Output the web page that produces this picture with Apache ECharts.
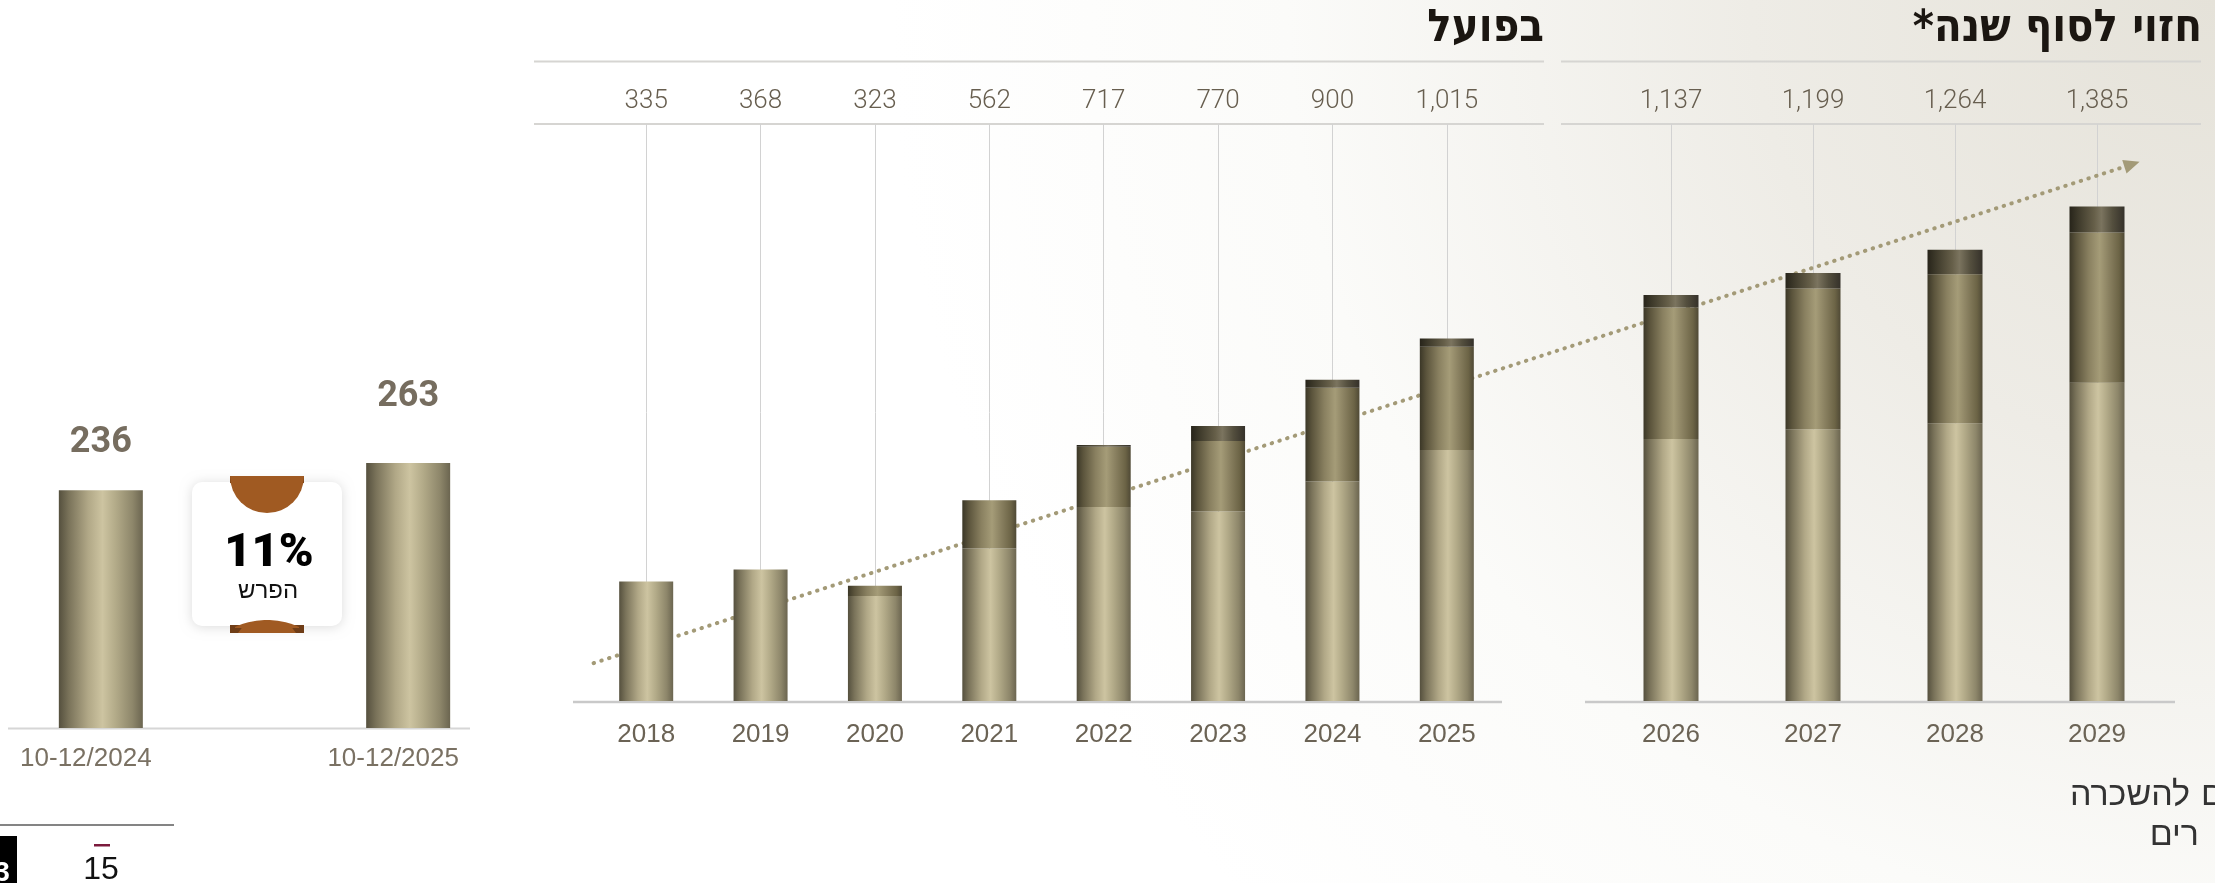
<!DOCTYPE html>
<html lang="he">
<head>
<meta charset="utf-8">
<title>נכסים להשכרה</title>
<script src="https://cdn.jsdelivr.net/npm/echarts@6/dist/echarts.min.js"></script>
<style>
  html, body { margin: 0; padding: 0; background: #ffffff; }
  #chart { width: 2215px; height: 883px; }
</style>
</head>
<body>
<div id="chart"></div>
<script>
// ---- Quarter comparison (left panel) ----
const quarterLabels = ['10-12/2024', '', '10-12/2025'];
const quarterValues = [236, null, 263];

// ---- Annual figures: actual years ----
const actualYears = ['2018', '2019', '2020', '2021', '2022', '2023', '2024', '2025'];
const actualBase  = [335, 368, 294, 427, 543, 531, 615, 703];
const actualMid   = [0, 0, 29, 135, 169, 197, 262, 289];
const actualTop   = [0, 0, 0, 0, 5, 42, 23, 23];

// ---- Annual figures: year-end forecast ----
const forecastYears = ['2026', '2027', '2028', '2029'];
const forecastBase  = [734, 761, 778, 891];
const forecastMid   = [368, 394, 417, 421];
const forecastTop   = [35, 44, 69, 73];

// Trend arrow level (value units) at its start and at its tip
const trendValues = [106, 1510];

// ---- helpers ----
const fmt = v => v.toLocaleString('en-US');
const totalAt = (arrs, i) => arrs.reduce((s, a) => s + a[i], 0);
const actualTotals = actualYears.map((_, i) => totalAt([actualBase, actualMid, actualTop], i));
const forecastTotals = forecastYears.map((_, i) => totalAt([forecastBase, forecastMid, forecastTop], i));
const changePct = Math.round((quarterValues[2] / quarterValues[0] - 1) * 100);

const G = echarts.graphic;
const grad = stops => new G.LinearGradient(0, 0, 1, 0, stops.map(([o, c]) => ({ offset: o, color: c })));
const lightFill = () => grad([[0, '#55503e'], [0.12, '#7a735a'], [0.35, '#b1a887'], [0.52, '#cdc4a1'], [0.68, '#b2aa88'], [0.88, '#8d866a'], [1, '#6b6550']]);
const midFill   = () => grad([[0, '#3b3727'], [0.12, '#5b543c'], [0.35, '#898060'], [0.55, '#a59c78'], [0.72, '#898060'], [0.9, '#6c6446'], [1, '#4f4935']]);
const darkFill  = () => grad([[0, '#27241a'], [0.15, '#3d392a'], [0.45, '#665f49'], [0.58, '#7b745f'], [0.78, '#544f3e'], [1, '#35312a']]);

const yearLabel = { color: '#6b6355', fontSize: 26, fontFamily: 'Liberation Sans, Arial, sans-serif', margin: 21, interval: 0 };
const totalLabel = { color: '#675e4f', fontSize: 26, fontWeight: 300, fontFamily: 'Roboto, Liberation Sans, sans-serif', margin: 10, interval: 0 };
const leaderTick = { show: true, inside: true, length: 577, alignWithLabel: true, lineStyle: { color: '#d2d2d2', width: 1 } };

const chart = echarts.init(document.getElementById('chart'), null, { renderer: 'canvas', width: 2215, height: 883 });

const labelGap = [29, 0, 48];

const baseOption = {
  animation: false,
  backgroundColor: new G.RadialGradient(1, 0, 1.5, [
    { offset: 0, color: '#e5e2d9' },
    { offset: 0.35, color: '#eeece6' },
    { offset: 0.7, color: '#fbfbf9' },
    { offset: 1, color: '#ffffff' }
  ]),
  grid: [
    { left: 24, width: 461, top: 200, bottom: 155, outerBoundsMode: 'none', containLabel: false },
    { left: 589, width: 915, top: 124, bottom: 182, outerBoundsMode: 'none', containLabel: false },
    { left: 1600, width: 568, top: 124, bottom: 182, outerBoundsMode: 'none', containLabel: false }
  ],
  xAxis: [
    { gridIndex: 0, type: 'category', data: quarterLabels, axisLine: { show: false }, axisTick: { show: false },
      axisLabel: { color: '#7a7163', fontSize: 26, fontFamily: 'Liberation Sans, Arial, sans-serif', margin: 18, interval: 0, padding: [0, 30, 0, 0] } },
    { gridIndex: 1, type: 'category', data: actualYears, position: 'bottom', axisLine: { show: false }, axisTick: { show: false }, axisLabel: yearLabel },
    { gridIndex: 1, type: 'category', data: actualYears, position: 'top', axisLine: { show: false }, axisTick: leaderTick,
      axisLabel: Object.assign({}, totalLabel, { formatter: (v, i) => fmt(actualTotals[i]) }) },
    { gridIndex: 2, type: 'category', data: forecastYears, position: 'bottom', axisLine: { show: false }, axisTick: { show: false }, axisLabel: yearLabel },
    { gridIndex: 2, type: 'category', data: forecastYears, position: 'top', axisLine: { show: false }, axisTick: leaderTick,
      axisLabel: Object.assign({}, totalLabel, { formatter: (v, i) => fmt(forecastTotals[i]) }) }
  ],
  yAxis: [
    { gridIndex: 0, type: 'value', min: 0, max: 524, show: false },
    { gridIndex: 1, type: 'value', min: 0, max: 1616, show: false },
    { gridIndex: 2, type: 'value', min: 0, max: 1616, show: false }
  ],
  series: [
    { type: 'bar', xAxisIndex: 0, yAxisIndex: 0, barWidth: 84,
      itemStyle: { color: lightFill() },
      label: { show: true, position: 'top', color: '#766d5f', fontSize: 36, fontWeight: 'bold', fontFamily: 'Roboto, Liberation Sans, sans-serif' },
      data: quarterValues.map((v, i) => v == null ? null : { value: v, label: { distance: labelGap[i] } }) },

    { type: 'bar', name: 'base', stack: 'actual', xAxisIndex: 1, yAxisIndex: 1, barWidth: 54, itemStyle: { color: lightFill() }, data: actualBase },
    { type: 'bar', name: 'mid', stack: 'actual', xAxisIndex: 1, yAxisIndex: 1, barWidth: 54, itemStyle: { color: midFill() }, data: actualMid },
    { type: 'bar', name: 'top', stack: 'actual', xAxisIndex: 1, yAxisIndex: 1, barWidth: 54, itemStyle: { color: darkFill() }, data: actualTop },

    { type: 'bar', name: 'base', stack: 'forecast', xAxisIndex: 3, yAxisIndex: 2, barWidth: 55, itemStyle: { color: lightFill() }, data: forecastBase },
    { type: 'bar', name: 'mid', stack: 'forecast', xAxisIndex: 3, yAxisIndex: 2, barWidth: 55, itemStyle: { color: midFill() }, data: forecastMid },
    { type: 'bar', name: 'top', stack: 'forecast', xAxisIndex: 3, yAxisIndex: 2, barWidth: 55, itemStyle: { color: darkFill() }, data: forecastTop }
  ]
};

chart.setOption(baseOption);

// ---- trend arrow, placed through the chart's own scales ----
const pA0 = chart.convertToPixel({ xAxisIndex: 1, yAxisIndex: 1 }, [0, trendValues[0]]);
const pA1 = chart.convertToPixel({ xAxisIndex: 1, yAxisIndex: 1 }, [1, trendValues[0]]);
const pF3 = chart.convertToPixel({ xAxisIndex: 3, yAxisIndex: 2 }, [3, trendValues[1]]);
const pF2 = chart.convertToPixel({ xAxisIndex: 3, yAxisIndex: 2 }, [2, trendValues[1]]);
const tx0 = pA0[0] - 0.46 * (pA1[0] - pA0[0]), ty0 = pA0[1];
const tx1 = pF3[0] + 0.30 * (pF3[0] - pF2[0]), ty1 = pF3[1];
const dx = tx1 - tx0, dy = ty1 - ty0, len = Math.hypot(dx, dy);
const ux = dx / len, uy = dy / len;
const headLen = 16, headHalf = 7;
const bx = tx1 - ux * headLen, by = ty1 - uy * headLen;

const trendColor = '#a39a77';
const brown = '#a05a22';
const brownDark = '#6f3d17';

// dome of the lower badge tab
const domePts = [];
for (let i = 0; i <= 24; i++) {
  const x = 235 + (64 * i) / 24;
  domePts.push([x, 697 - Math.sqrt(77 * 77 - (x - 267) * (x - 267))]);
}
domePts.push([299, 628], [235, 628]);

const ruleStyle = { stroke: '#d6d5d2', lineWidth: 2 };
const baseStyle = { stroke: '#c9c9c9', lineWidth: 2.5 };
const headFont = 'DejaVu Sans Condensed, DejaVu Sans, Liberation Sans, sans-serif';
const bodyFont = 'DejaVu Sans, Liberation Sans, sans-serif';

const elements = [
  // header rules and baselines
  { type: 'line', shape: { x1: 534, y1: 61.5, x2: 1544, y2: 61.5 }, style: ruleStyle, silent: true },
  { type: 'line', shape: { x1: 1561, y1: 61.5, x2: 2201, y2: 61.5 }, style: ruleStyle, silent: true },
  { type: 'line', shape: { x1: 534, y1: 124, x2: 1544, y2: 124 }, style: ruleStyle, silent: true },
  { type: 'line', shape: { x1: 1561, y1: 124, x2: 2201, y2: 124 }, style: ruleStyle, silent: true },
  { type: 'line', shape: { x1: 573, y1: 702, x2: 1502, y2: 702 }, style: baseStyle, silent: true },
  { type: 'line', shape: { x1: 1585, y1: 702, x2: 2175, y2: 702 }, style: baseStyle, silent: true },
  { type: 'line', shape: { x1: 8, y1: 728.5, x2: 470, y2: 728.5 }, style: { stroke: '#d6d6d6', lineWidth: 2 }, silent: true },

  // section headings
  { type: 'text', x: 1544, y: 29, silent: true,
    style: { text: 'בפועל', align: 'right', verticalAlign: 'middle', fill: '#1b1611', fontSize: 45, fontWeight: 'bold', fontFamily: headFont } },
  { type: 'text', x: 2202, y: 29, silent: true,
    style: { text: 'חזוי לסוף שנה*\u200F', align: 'right', verticalAlign: 'middle', fill: '#1b1611', fontSize: 45, fontWeight: 'bold', fontFamily: headFont } },

  // dotted trend arrow
  { type: 'line', z: 1, silent: true, shape: { x1: tx0, y1: ty0, x2: bx, y2: by },
    style: { stroke: trendColor, lineWidth: 4, lineDash: [0.5, 7.6], lineCap: 'round' } },
  { type: 'polygon', z: 1, silent: true,
    shape: { points: [[tx1, ty1], [bx - uy * headHalf, by + ux * headHalf], [bx + uy * headHalf, by - ux * headHalf]] },
    style: { fill: trendColor } },

  // change badge
  { type: 'rect', z: 5, silent: true, shape: { x: 192, y: 482, width: 150, height: 144, r: 10 },
    style: { fill: '#ffffff', shadowBlur: 12, shadowColor: 'rgba(0,0,0,0.14)', shadowOffsetY: 1 } },
  { type: 'rect', z: 6, silent: true, shape: { x: 230, y: 476, width: 74, height: 7, r: [3, 3, 0, 0] }, style: { fill: brown } },
  { type: 'polygon', z: 6, silent: true, shape: { points: [[230, 476], [236, 476], [236, 483], [230, 483]] }, style: { fill: brownDark } },
  { type: 'polygon', z: 6, silent: true, shape: { points: [[298, 476], [304, 476], [304, 483], [298, 483]] }, style: { fill: brownDark } },
  { type: 'sector', z: 6, silent: true, shape: { cx: 267, cy: 476, r: 37, r0: 0, startAngle: 0, endAngle: Math.PI, clockwise: true }, style: { fill: brown } },
  { type: 'rect', z: 6, silent: true, shape: { x: 230, y: 626, width: 74, height: 7, r: [0, 0, 3, 3] }, style: { fill: brown } },
  { type: 'polygon', z: 6, silent: true, shape: { points: [[230, 625], [244, 625], [238, 633], [230, 633]] }, style: { fill: brownDark } },
  { type: 'polygon', z: 6, silent: true, shape: { points: [[304, 625], [290, 625], [296, 633], [304, 633]] }, style: { fill: brownDark } },
  { type: 'polygon', z: 6, silent: true, shape: { points: domePts }, style: { fill: brown } },
  { type: 'text', z: 7, x: 269, y: 554, silent: true,
    style: { text: changePct + '%', align: 'center', verticalAlign: 'middle', fill: '#000000', fontSize: 47, fontWeight: 900, fontFamily: 'Roboto, Inter, Liberation Sans, sans-serif' } },
  { type: 'text', z: 7, x: 268, y: 592, silent: true,
    style: { text: 'הפרש', align: 'center', verticalAlign: 'middle', fill: '#111111', fontSize: 24, fontWeight: 'lighter', fontFamily: bodyFont } },

  // page furniture, lower left
  { type: 'line', silent: true, shape: { x1: 0, y1: 825, x2: 174, y2: 825 }, style: { stroke: '#5b5b5b', lineWidth: 1.5 } },
  { type: 'rect', silent: true, shape: { x: 0, y: 836, width: 17, height: 47 }, style: { fill: '#000000' } },
  { type: 'text', silent: true, x: 2, y: 873, style: { text: '3', align: 'center', verticalAlign: 'middle', fill: '#ffffff', fontSize: 28, fontWeight: 'bold', fontFamily: 'Liberation Sans, sans-serif' } },
  { type: 'rect', silent: true, shape: { x: 94, y: 844, width: 16, height: 2.5 }, style: { fill: '#7b1a3c' } },
  { type: 'text', silent: true, x: 101, y: 870, style: { text: '15', align: 'center', verticalAlign: 'middle', fill: '#111111', fontSize: 32, fontFamily: 'Liberation Sans, sans-serif' } },

  // caption text running off the lower right edge
  { type: 'text', silent: true, x: 2224, y: 796, style: { text: 'ם להשכרה', align: 'right', verticalAlign: 'middle', fill: '#333333', fontSize: 34, fontWeight: 'lighter', fontFamily: bodyFont } },
  { type: 'text', silent: true, x: 2199, y: 836, style: { text: 'רים', align: 'right', verticalAlign: 'middle', fill: '#333333', fontSize: 34, fontWeight: 'lighter', fontFamily: bodyFont } }
];

chart.setOption({ graphic: { elements: elements } });
</script>
</body>
</html>
